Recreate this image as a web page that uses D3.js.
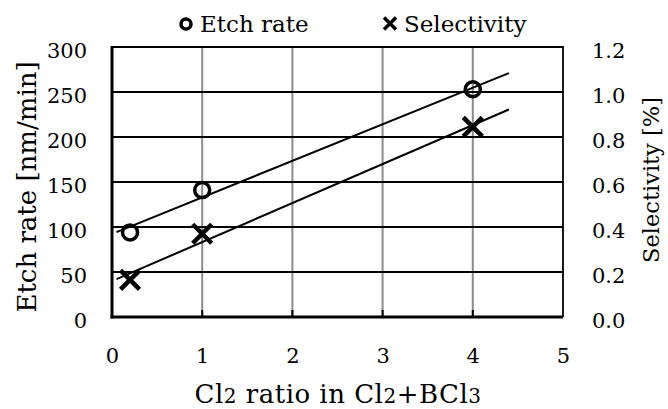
<!DOCTYPE html>
<html>
<head>
<meta charset="utf-8">
<script src="https://cdn.jsdelivr.net/npm/d3@7"></script>
<style>
  body { margin: 0; background: #fff; }
  text { font-family: "DejaVu Serif", serif; fill: #000; }
</style>
</head>
<body>
<script>
// data
var ratio = [0.2, 1, 4];
var etchRate = [94, 141, 253];
var selectivity = [0.165, 0.37, 0.845];
var xTicks = [0, 1, 2, 3, 4, 5];
var etchTicks = [0, 50, 100, 150, 200, 250, 300];
var selTicks = [0, 0.2, 0.4, 0.6, 0.8, 1.0, 1.2];

var W = 668, H = 409;
var M = {left: 112, right: 105, top: 47, bottom: 92};
var width = W - M.left - M.right;
var height = H - M.top - M.bottom;

var x = d3.scaleLinear().domain([0, 5]).range([0, width]);
var yL = d3.scaleLinear().domain([0, 300]).range([height, 0]);
var yR = d3.scaleLinear().domain([0, 1.2]).range([height, 0]);

// least squares trend, drawn 0.15 back and 0.4 forward like the spreadsheet
function fit(xs, ys) {
    var n = xs.length, mx = d3.mean(xs), my = d3.mean(ys);
    var sxy = 0, sxx = 0;
    for (var i = 0; i < n; i++) {
        sxy += (xs[i] - mx) * (ys[i] - my);
        sxx += (xs[i] - mx) * (xs[i] - mx);
    }
    var b = sxy / sxx;
    return function (v) { return my + b * (v - mx); };
}
var x0 = d3.min(ratio) - 0.15, x1 = d3.max(ratio) + 0.4;
var fE = fit(ratio, etchRate), fS = fit(ratio, selectivity);

var svg = d3.select("body").append("svg")
    .attr("width", W).attr("height", H);
var g = svg.append("g").attr("transform", "translate(" + M.left + "," + M.top + ")");

// vertical grid (gray)
g.selectAll(".vg").data(xTicks.slice(1, -1)).enter().append("line")
    .attr("x1", function (d) { return x(d); }).attr("x2", function (d) { return x(d); })
    .attr("y1", 0).attr("y2", height)
    .attr("stroke", "#8c8c8c").attr("stroke-width", 2);
// small inward ticks at bottom
g.selectAll(".bt").data(xTicks.slice(1, -1)).enter().append("line")
    .attr("x1", function (d) { return x(d); }).attr("x2", function (d) { return x(d); })
    .attr("y1", height - 7).attr("y2", height)
    .attr("stroke", "#000").attr("stroke-width", 2);
// horizontal grid (black)
g.selectAll(".hg").data(etchTicks.slice(1)).enter().append("line")
    .attr("x1", 0).attr("x2", width)
    .attr("y1", function (d) { return yL(d); }).attr("y2", function (d) { return yL(d); })
    .attr("stroke", "#000").attr("stroke-width", 1.8);
// right border
g.append("line").attr("x1", width).attr("x2", width).attr("y1", -0.9).attr("y2", height)
    .attr("stroke", "#000").attr("stroke-width", 1.8);

// axes
var axL = g.append("g").call(d3.axisLeft(yL).tickValues(etchTicks).tickSize(0).tickPadding(25));
var axR = g.append("g").attr("transform", "translate(" + width + ",0)")
    .call(d3.axisRight(yR).tickValues(selTicks).tickSize(0).tickPadding(29).tickFormat(d3.format(".1f")));
var axB = g.append("g").attr("transform", "translate(0," + height + ")")
    .call(d3.axisBottom(x).tickValues(xTicks).tickSize(0).tickPadding(31).tickFormat(d3.format("d")));
[axL, axR, axB].forEach(function (a) {
    a.selectAll("text").style("font-family", "DejaVu Serif").style("font-size", "21px");
});
axL.selectAll("text").attr("dy", "0.5em");
axR.selectAll("text").attr("dy", "0.5em");
axR.select(".domain").remove();
axL.select(".domain").attr("stroke-width", 3).attr("d", "M0,-1V" + (height + 1.5));
axB.select(".domain").attr("stroke-width", 3).attr("d", "M-1.5,0H" + width);

// trend lines
var tE = [x0, x1].map(function (v) { return [x(v), yL(fE(v))]; });
var tS = [x0, x1].map(function (v) { return [x(v), yR(fS(v))]; });
g.append("path").attr("d", d3.line()(tE)).attr("stroke", "#000").attr("stroke-width", 2).attr("fill", "none");
g.append("path").attr("d", d3.line()(tS)).attr("stroke", "#000").attr("stroke-width", 2).attr("fill", "none");

// markers
g.selectAll(".ec").data(ratio).enter().append("circle")
    .attr("cx", function (d) { return x(d); })
    .attr("cy", function (d, i) { return yL(etchRate[i]); })
    .attr("r", 7.5).attr("fill", "none").attr("stroke", "#000").attr("stroke-width", 3.5);
g.selectAll(".sx").data(ratio).enter().append("path")
    .attr("transform", function (d, i) { return "translate(" + x(d) + "," + yR(selectivity[i]) + ")"; })
    .attr("d", "M-9.5,-9.5L9.5,9.5M-9.5,9.5L9.5,-9.5")
    .attr("stroke", "#000").attr("stroke-width", 4.5).attr("fill", "none");

// legend
svg.append("circle").attr("cx", 186).attr("cy", 24).attr("r", 5)
    .attr("fill", "none").attr("stroke", "#000").attr("stroke-width", 3.5);
svg.append("text").attr("x", 200).attr("y", 32).style("font-size", "23px").text("Etch rate");
svg.append("path").attr("transform", "translate(390,23.5)")
    .attr("d", "M-6,-6L6,6M-6,6L6,-6").attr("stroke", "#000").attr("stroke-width", 3.5);
svg.append("text").attr("x", 404).attr("y", 32).style("font-size", "23px").text("Selectivity");

// axis titles
var xt = svg.append("text").attr("x", 338).attr("y", 403)
    .attr("text-anchor", "middle").style("font-size", "26px").style("letter-spacing", "0.5px");
xt.append("tspan").text("Cl");
xt.append("tspan").style("font-size", "20px").text("2");
xt.append("tspan").text(" ratio in Cl");
xt.append("tspan").style("font-size", "20px").text("2");
xt.append("tspan").text("+BCl");
xt.append("tspan").style("font-size", "20px").text("3");

svg.append("text").attr("transform", "translate(36,187) rotate(-90)")
    .attr("text-anchor", "middle").style("font-size", "26px").text("Etch rate [nm/min]");
svg.append("text").attr("transform", "translate(659,180) rotate(-90)")
    .attr("text-anchor", "middle").style("font-size", "22.5px").text("Selectivity [%]");
</script>
</body>
</html>
